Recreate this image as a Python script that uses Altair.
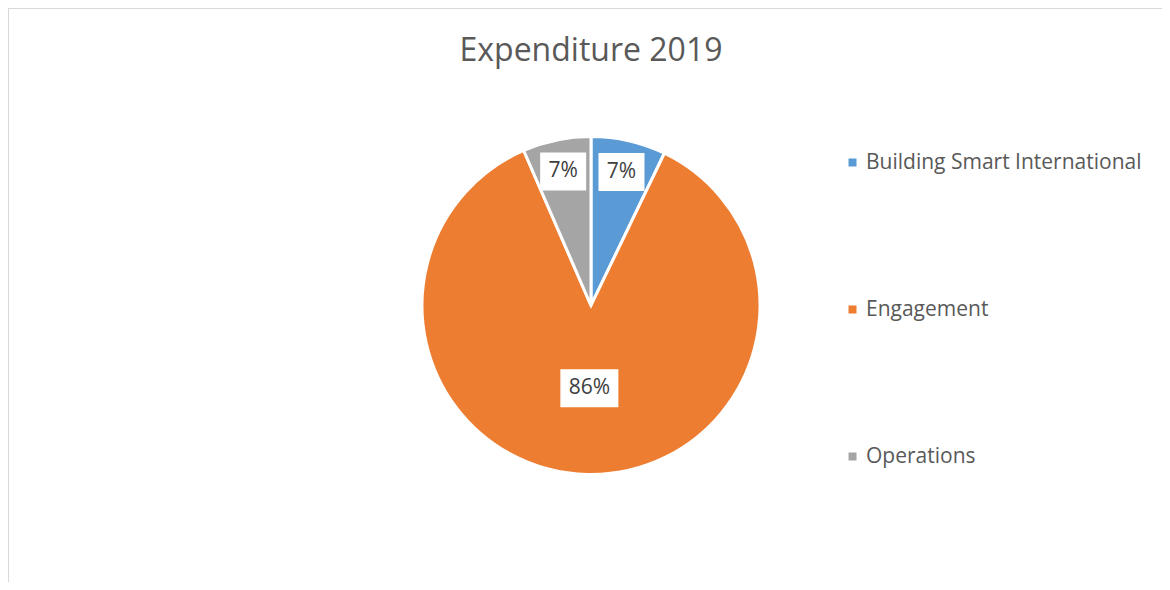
import altair as alt
import pandas as pd

# Data
categories = ["Building Smart International", "Engagement", "Operations"]
shares = [7.15, 86.33, 6.52]
order_idx = [0, 1, 2]
colors = ["#5B9BD5", "#ED7D31", "#A5A5A5"]
title_text = "Expenditure 2019"

df = pd.DataFrame({"category": categories, "value": shares, "idx": order_idx})

W, H = 1154, 574
CX, CY, R = 583, 297.5, 169
FONT = "Open Sans"

xs = alt.Scale(domain=[-1, 1], range=[CX - R, CX + R])
ys = alt.Scale(domain=[-1, 1], range=[CY + R, CY - R])

pie = alt.Chart(df).mark_arc(outerRadius=R, stroke="white", strokeWidth=3).encode(
    theta=alt.Theta("value:Q", stack=True),
    order=alt.Order("idx:Q"),
    color=alt.Color(
        "category:N",
        scale=alt.Scale(domain=categories, range=colors),
        sort=categories,
        legend=alt.Legend(
            title=None,
            orient="none",
            legendX=834,
            legendY=144,
            symbolType="square",
            symbolSize=64,
            symbolStrokeWidth=0,
            labelFont=FONT,
            labelFontSize=21,
            labelColor="#595959",
            labelOffset=3,
            rowPadding=125,
            labelLimit=400,
        ),
    ),
    x=alt.value(CX),
    y=alt.value(CY),
)

lab = (
    alt.Chart(df)
    .transform_joinaggregate(total="sum(value)")
    .transform_window(cum="sum(value)", sort=[alt.SortField("idx")])
    .transform_calculate(
        pct="datum.value / datum.total",
        mid="2 * PI * (datum.cum - datum.value / 2) / datum.total",
        f="datum.value / datum.total > 0.5 ? 0.49 : 0.81",
        lx="datum.f * sin(datum.mid)",
        ly="datum.f * cos(datum.mid)",
        label="format(datum.pct, '.0%')",
    )
    .transform_calculate(
        hw=f"(22 + 12 * length(datum.label)) / 2 / {R}",
        hh=f"19 / {R}",
    )
    .transform_calculate(
        x1="datum.lx - datum.hw",
        x2="datum.lx + datum.hw",
        y1="datum.ly - datum.hh",
        y2="datum.ly + datum.hh",
    )
)

boxes = lab.mark_rect(color="white").encode(
    x=alt.X("x1:Q", scale=xs, axis=None),
    x2="x2:Q",
    y=alt.Y("y1:Q", scale=ys, axis=None),
    y2="y2:Q",
)

texts = lab.mark_text(font=FONT, fontSize=21, color="#404040", align="center", baseline="middle").encode(
    x=alt.X("lx:Q", scale=xs, axis=None),
    y=alt.Y("ly:Q", scale=ys, axis=None),
    text="label:N",
)

frame_df = pd.DataFrame({"k": [0]})
vline = alt.Chart(frame_df).mark_rule(color="#d9d9d9", strokeWidth=2).encode(
    x=alt.value(0), y=alt.value(0), y2=alt.value(H + 20)
)
hline = alt.Chart(frame_df).mark_rule(color="#d9d9d9", strokeWidth=2).encode(
    x=alt.value(0), x2=alt.value(W + 20), y=alt.value(0)
)

title = alt.Chart(pd.DataFrame({"t": [title_text]})).mark_text(
    font=FONT, fontSize=32, color="#595959", align="center", baseline="alphabetic"
).encode(x=alt.value(CX), y=alt.value(53), text="t:N")

chart = (
    alt.layer(pie, boxes, texts, vline, hline, title)
    .resolve_scale(x="shared", y="shared")
    .properties(width=W, height=H, autosize=alt.AutoSizeParams(type="none"), padding=0)
    .configure_view(stroke=None)
    .configure(background="white")
)

chart.save("out.html", embed_options={"renderer": "svg", "actions": False})
